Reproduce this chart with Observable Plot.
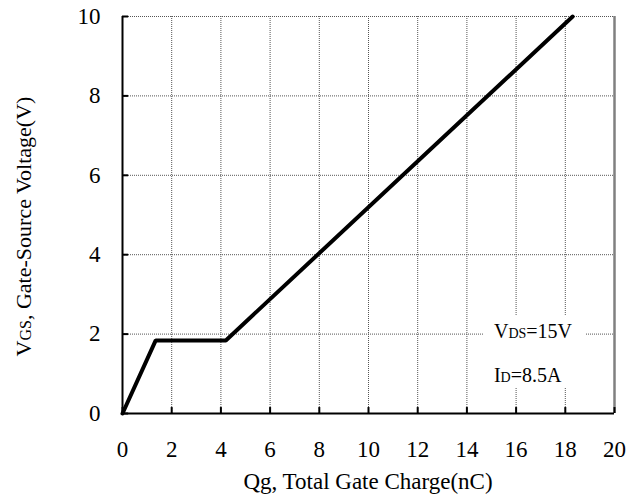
<!DOCTYPE html>
<html><head><meta charset="utf-8">
<script src="https://cdn.jsdelivr.net/npm/d3@7"></script>
<script src="https://cdn.jsdelivr.net/npm/@observablehq/plot@0.6"></script>
<style>body{margin:0;background:#fff} svg{display:block}</style>
</head><body><div id="chart"></div>
<script>
// Gate charge curve
const qg = [0, 1.35, 4.2, 18.3];
const vgs = [0, 1.84, 1.84, 10];
const xTicks = [0, 2, 4, 6, 8, 10, 12, 14, 16, 18, 20];
const yTicks = [0, 2, 4, 6, 8, 10];
const xTitle = "Qg, Total Gate Charge(nC)";
const yTitle = [["V", false], ["GS", true], [", Gate-Source Voltage(V)", false]];
const note1 = [["V", false], ["DS", true], ["=15V", false]];
const note2 = [["I", false], ["D", true], ["=8.5A", false]];

const points = qg.map((q, i) => ({q, v: vgs[i]}));
const ff = "Liberation Serif";
const gridStyle = {stroke: "#555", strokeOpacity: 1, strokeWidth: 1, strokeDasharray: "1,1"};

const chart = Plot.plot({
  width: 636, height: 499,
  marginLeft: 122, marginRight: 22, marginTop: 16, marginBottom: 86,
  style: "font-family: 'Liberation Serif', serif; font-size: 22px; color: black; background: white;",
  x: {domain: [0, 20], axis: null},
  y: {domain: [0, 10], axis: null},
  marks: [
    Plot.gridX(xTicks, gridStyle),
    Plot.gridY(yTicks, gridStyle),
    Plot.rect([0], {x1: 14.69, x2: 18.83, y1: 0.64, y2: 2.47, fill: "white"}),
    Plot.ruleX([20], {stroke: "#808080", strokeWidth: 2.5}),
    Plot.ruleX([0], {stroke: "black", strokeWidth: 2}),
    Plot.ruleY([0], {stroke: "black", strokeWidth: 2}),
    Plot.ruleX(xTicks, {x: d => d, y1: 0, y2: 0.15, stroke: "black", strokeWidth: 2}),
    Plot.ruleY(yTicks, {y: d => d, x1: 0, x2: 0.25, stroke: "black", strokeWidth: 2}),
    Plot.text(xTicks, {x: d => d, y: 0, dy: 36, text: d => String(d), fontSize: 23, fontFamily: ff, fill: "black"}),
    Plot.text(yTicks, {x: 0, y: d => d, dx: -22, textAnchor: "end", text: d => String(d), fontSize: 23, fontFamily: ff, fill: "black"}),
    Plot.line(points, {x: "q", y: "v", stroke: "black", strokeWidth: 4, strokeLinejoin: "miter"})
  ]
});
document.getElementById("chart").appendChild(chart);

const svg = d3.select(chart);
const x = chart.scale("x"), y = chart.scale("y");

function addParts(t, parts, big, small) {
  for (const [s, sm] of parts) t.append("tspan").attr("font-size", sm ? small : big).text(s);
}

// x title
svg.append("text").attr("x", (x.apply(0) + x.apply(20)) / 2).attr("y", 489)
  .attr("text-anchor", "middle").attr("font-family", ff).attr("font-size", 23).attr("fill", "black").text(xTitle);

// y title
const yt = svg.append("text").attr("transform", `translate(31,${(y.apply(0) + y.apply(10)) / 2 + 12}) rotate(-90)`)
  .attr("text-anchor", "middle").attr("font-family", ff).attr("fill", "black");
addParts(yt, yTitle, 22, 16);

// annotations
const t1 = svg.append("text").attr("x", x.apply(15.12)).attr("y", y.apply(1.9))
  .attr("text-anchor", "start").attr("font-family", ff).attr("fill", "black");
addParts(t1, note1, 20, 14);
const t2 = svg.append("text").attr("x", x.apply(15.12)).attr("y", y.apply(0.79))
  .attr("text-anchor", "start").attr("font-family", ff).attr("fill", "black");
addParts(t2, note2, 20, 14);
</script>
</body></html>
